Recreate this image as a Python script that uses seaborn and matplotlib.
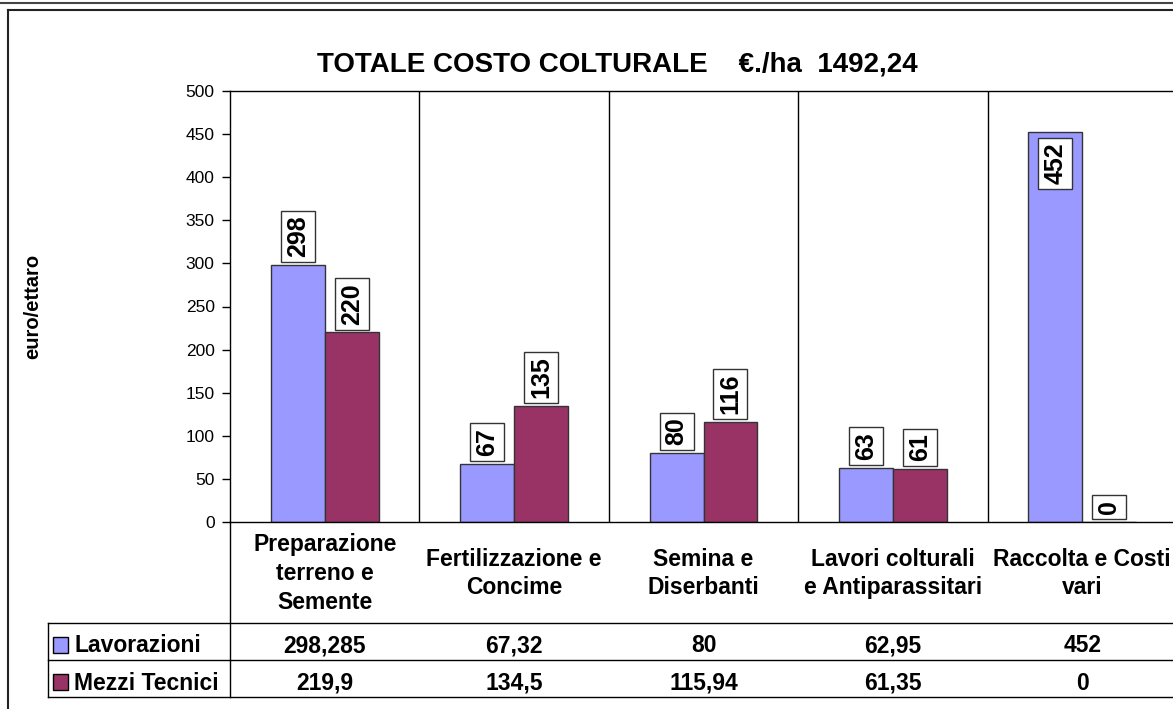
import seaborn as sns
import pandas as pd
import matplotlib.pyplot as plt
from matplotlib.lines import Line2D
from matplotlib.patches import Rectangle
import matplotlib.transforms as mtransforms

categories = ['Preparazione\nterreno e\nSemente', 'Fertilizzazione e\nConcime',
              'Semina e\nDiserbanti', 'Lavori colturali\ne Antiparassitari',
              'Raccolta e Costi\nvari']
series = ['Lavorazioni', 'Mezzi Tecnici']
lavorazioni = [298.285, 67.32, 80, 62.95, 452]
mezzi_tecnici = [219.9, 134.5, 115.94, 61.35, 0]
colors = {'Lavorazioni': '#9999FF', 'Mezzi Tecnici': '#993366'}
yticks = list(range(0, 501, 50))
title = 'TOTALE COSTO COLTURALE    €./ha  1492,24'

plt.rcParams['font.family'] = ['Liberation Sans', 'DejaVu Sans']

W, H = 1173, 709


def fx(x):
    return x / W


def fy(y):
    return 1 - y / H


df = pd.DataFrame({
    'categoria': categories * 2,
    'serie': [series[0]] * 5 + [series[1]] * 5,
    'valore': lavorazioni + mezzi_tecnici,
})

fig = plt.figure(figsize=(W / 100, H / 100), dpi=100)
ax = fig.add_axes([fx(230), fy(522), fx(1177) - fx(230), fy(91) - fy(522)])

sns.barplot(data=df, x='categoria', y='valore', hue='serie', order=categories,
            hue_order=series, palette=colors, saturation=1, width=0.57,
            edgecolor='#333333', linewidth=1, ax=ax)
ax.legend_.remove()

ax.set_xlim(-0.5, 4.5)
ax.set_ylim(0, 500)
ax.set_yticks(yticks)
ax.tick_params(axis='y', labelsize=12.5, length=6, width=1, pad=5, color='black')
ax.tick_params(axis='x', length=0, pad=37, labelsize=16.5)
for lbl in ax.get_xticklabels():
    lbl.set_fontweight('bold')
    lbl.set_va('center')
    lbl.set_linespacing(1.32)
ax.set_xlabel('')
ax.set_ylabel('')
for s in ax.spines.values():
    s.set_color('black')
    s.set_linewidth(1)
for xv in [0.5, 1.5, 2.5, 3.5]:
    ax.axvline(xv, color='black', lw=1)

# data labels
vals = [lavorazioni, mezzi_tecnici]
for cont, sv in zip(ax.containers, vals):
    for bar, v in zip(cont, sv):
        xc = bar.get_x() + bar.get_width() / 2
        txt = str(int(v + 0.5))
        box = dict(boxstyle='square,pad=0.2', fc='white', ec='#333333', lw=1)
        if v > 400:
            ax.annotate(txt, (xc, v), xytext=(0, -7.5), textcoords='offset points',
                        rotation=90, ha='center', va='top', fontsize=18,
                        fontweight='bold', bbox=box)
        else:
            ax.annotate(txt, (xc, v), xytext=(0, 5.5), textcoords='offset points',
                        rotation=90, ha='center', va='bottom', fontsize=18,
                        fontweight='bold', bbox=box)

fig.text(fx(617), fy(72), title, ha='center', va='baseline', fontsize=20,
         fontweight='bold')
fig.text(fx(33), fy(306), 'euro/ettaro', rotation=90, ha='center', va='center',
         fontsize=14.5, fontweight='bold')

# data table
blend = mtransforms.blended_transform_factory(ax.transData, fig.transFigure)
for i, sv in enumerate(vals):
    base = fy(652.5 + 37 * i)
    for j, v in enumerate(sv):
        ax.text(j, base, format(v, 'g').replace('.', ','), transform=blend,
                ha='center', va='baseline', fontsize=16.5, fontweight='bold',
                clip_on=False)
    fig.text(fx(74), base, series[i], ha='left', va='baseline', fontsize=16.5,
             fontweight='bold')
    fig.add_artist(Rectangle((fx(53), fy(653 + 37 * i)), fx(15), fy(637) - fy(653),
                             transform=fig.transFigure, fc=colors[series[i]],
                             ec='black', lw=1))

lines = [
    ((48, W), (623, 623)), ((48, W), (660, 660)), ((48, W), (697, 697)),
    ((48, 48), (623, 697)), ((230, 230), (522, 697)),
]
for xs, ys in lines:
    fig.add_artist(Line2D([fx(xs[0]), fx(xs[1])], [fy(ys[0]), fy(ys[1])],
                          color='black', lw=1))

# outer frame
fig.add_artist(Line2D([0, 1], [fy(3), fy(3)], color='#444444', lw=1.5))
fig.add_artist(Line2D([fx(8), 1], [fy(10), fy(10)], color='#222222', lw=1.5))
fig.add_artist(Line2D([fx(8), fx(8)], [fy(10), 0], color='#222222', lw=1.5))

fig.savefig('out.png', dpi=100)
